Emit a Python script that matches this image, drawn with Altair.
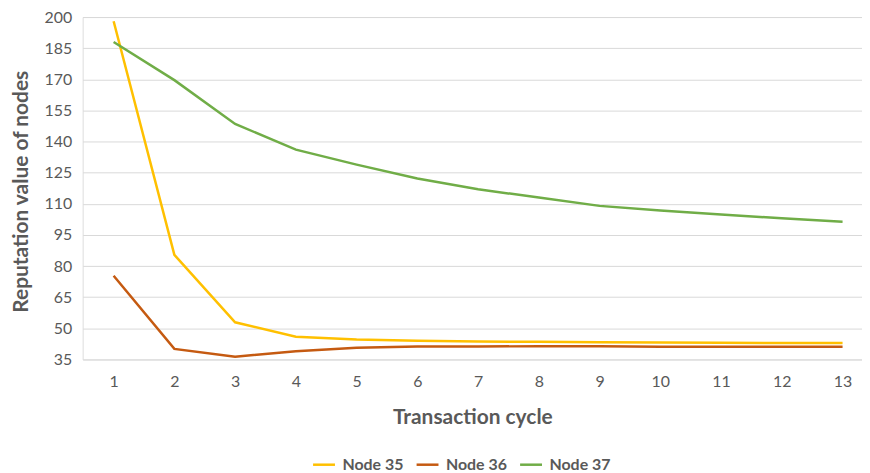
import altair as alt
import pandas as pd

cycles = list(range(1, 14))
node35 = [198.0, 85.4, 52.9, 45.9, 44.6, 44.0, 43.6, 43.5, 43.3, 43.2, 43.0, 42.9, 42.9]
node36 = [75.3, 40.1, 36.3, 39.0, 40.6, 41.2, 41.2, 41.4, 41.3, 41.1, 41.1, 41.1, 41.1]
node37 = [188.0, 169.6, 148.5, 136.1, 128.9, 122.2, 117.0, 113.0, 109.0, 106.8, 104.9, 103.0, 101.4]
series = ["Node 35", "Node 36", "Node 37"]
colors = ["#FFC000", "#C55A11", "#70AD47"]
y_ticks = [35, 50, 65, 80, 95, 110, 125, 140, 155, 170, 185, 200]

rows = []
for name, vals in zip(series, [node35, node36, node37]):
    for c, v in zip(cycles, vals):
        rows.append({"cycle": c, "value": v, "series": name})
df = pd.DataFrame(rows)

FONT = "Lato"
GREY = "#595959"

chart = alt.Chart(df).mark_line(strokeWidth=2.5).encode(
    x=alt.X("cycle:Q",
            scale=alt.Scale(domain=[0.49, 13.32], nice=False, zero=False),
            axis=alt.Axis(values=cycles, grid=False, domain=False, ticks=False,
                          labelFontSize=16, labelColor=GREY, labelFont=FONT,
                          labelPadding=14, title="Transaction cycle",
                          titleFont=FONT, titleFontSize=21, titleFontWeight="bold",
                          titleColor=GREY, titleY=58, titleBaseline="middle")),
    y=alt.Y("value:Q",
            scale=alt.Scale(domain=[35, 200], nice=False, zero=False),
            axis=alt.Axis(values=y_ticks, grid=True, gridColor="#D9D9D9", gridWidth=1,
                          domain=False, ticks=False,
                          labelFontSize=16, labelColor=GREY, labelFont=FONT,
                          labelPadding=11, title="Reputation value of nodes",
                          titleFont=FONT, titleFontSize=21, titleFontWeight="bold",
                          titleColor=GREY, titleX=-61, titleY=175, titleAngle=-90,
                          titleAlign="center", titleBaseline="middle")),
    color=alt.Color("series:N",
                    scale=alt.Scale(domain=series, range=colors),
                    legend=alt.Legend(title=None, orient="none", direction="horizontal",
                                      legendX=230, legendY=437,
                                      symbolType="stroke", symbolSize=484,
                                      symbolStrokeWidth=2.5, labelFont=FONT,
                                      labelFontSize=16, labelFontWeight="bold",
                                      labelColor=GREY, labelOffset=6,
                                      columnPadding=7)),
).properties(
    width=783, height=344,
    autosize=alt.AutoSizeParams(type="none"),
    padding={"left": 75, "top": 8, "right": 0, "bottom": 113},
).configure_view(stroke=None).configure(background="white")

chart.save("out.html", embed_options={"renderer": "svg", "actions": False})
